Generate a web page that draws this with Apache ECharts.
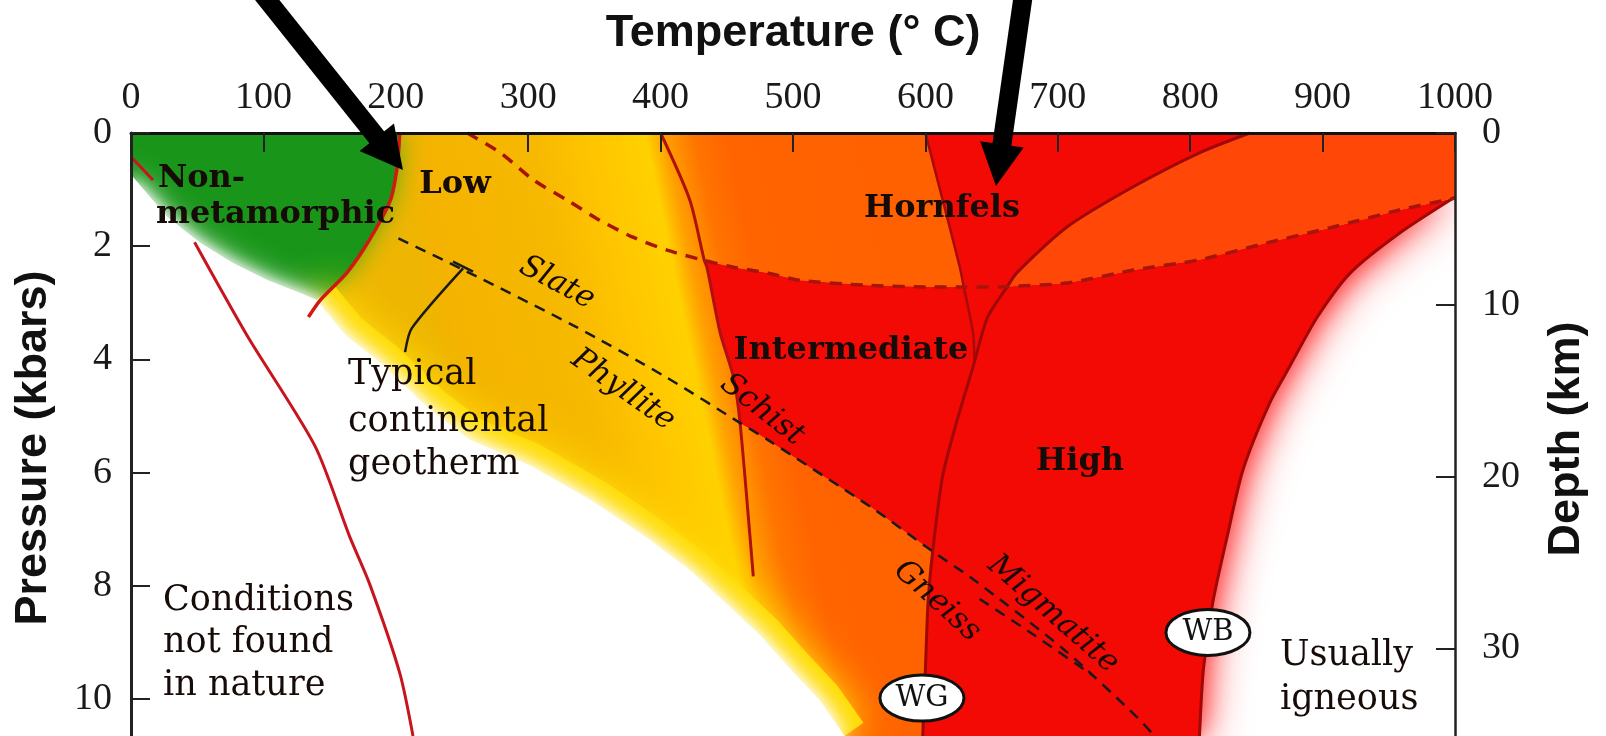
<!DOCTYPE html>
<html>
<head>
<meta charset="utf-8">
<title>Metamorphic grade</title>
<script src="https://cdn.jsdelivr.net/npm/echarts@6/dist/echarts.min.js"></script>
<style>
html,body{margin:0;padding:0;background:#fff;}
#chart{width:1606px;height:736px;}
</style>
</head>
<body>
<div id="chart"></div>
<script>
// axis ranges
var tempMin = 0, tempMax = 1000, tempStep = 100;
var presMax = 10.65, presStep = 2;
var depthMax = 35.1, depthStep = 10;

// boundaries, each point is [temperature C, pressure kbar]
var lowGradeLine = [[203,0],[201,0.6],[196,1.18],[180,1.89],[163,2.47],[143,2.95],[134,3.25]];
var nonMetEdge = [[0,0.65],[1.5,0.78],[27,1.48],[52,1.94],[77,2.3],[103,2.6],[128,2.83],[140,2.95]];
var natureEdge = [[140,2.95],[162,3.57],[188,4.05],[226,4.89],[256,5.42],[301,5.87],[347,6.48],[388,7.12],[422,7.72],[449,8.3],[475,8.87],[498,9.47],[520,10.02],[539,10.65]];
var conditionsTop = [[0,0.42],[16.6,0.83]];
var conditionsLine = [[48,1.93],[88,3.59],[139,5.53],[165,7.12],[180,7.95],[203,9.54],[213,10.65]];
var schistLine = [[400,0],[422,1.18],[433,2.25],[435,2.37],[445,3.53],[455,4.31],[460,5.12],[467.5,7.12],[470,7.83]];
var hornfelsLine = [[254,0],[279,0.35],[304,0.83],[329,1.18],[354,1.54],[379,1.84],[405,2.07],[433,2.25],[455,2.37],[480,2.47],[505,2.6],[556,2.69],[606,2.72],[629,2.72],[656,2.72],[662,2.71],[707,2.65],[757,2.42],[807,2.24],[858,1.94],[908,1.66],[958,1.36],[1000,1.15]];
var hornfelsHighLine = [[600,0],[613,1.18],[626,2.37],[629,2.72],[636,3.53],[637,4.0]];
var wetGraniteLine = [[845,0],[807,0.35],[757,0.95],[707,1.66],[669,2.47],[662,2.71],[647,3.25],[636,4.13],[624,5.07],[613,6.06],[605.5,7.39],[602,8.3],[600,9.47],[598,10.65]];
var wetBasaltLine = [[1000,1.13],[958,1.77],[921,2.47],[896,3.25],[875,4.13],[860,4.77],[840,5.94],[828,7.12],[817,8.3],[810,9.47],[807,10.65]];
var geothermLine = [[202,1.86],[253,2.44],[335,3.41],[404,4.31],[460,5.12],[481,5.42],[559,6.61],[605.5,7.39],[636,7.88],[705,9.13],[760,10.32],[773,10.65]];
var geothermLine2 = [[641,8.23],[681,8.85],[727,9.59]];
var geothermLeader = [[207,3.87],[212,3.45],[250.8,2.39]];
var geothermBracket = [[243.2,2.27],[258.3,2.45]];

// annotations
var labelTexts = ['Non-','metamorphic','Low','Hornfels','Slate','Phyllite','Schist','Intermediate','High','Gneiss','Migmatite',
	'Typical','continental','geotherm','Conditions','not found','in nature','Usually','igneous'];
var labelAt = [[20.4,0.80],[18.9,1.45],[244.7,0.92],[612.5,1.34],[321.8,2.65],[371.6,4.54],[476.6,4.89],[543.8,3.85],[716.8,5.8],[608.8,8.27],[696.4,8.5],
	[163.9,4.28],[163.9,5.11],[163.9,5.87],[24.2,8.27],[24.2,9.01],[24.2,9.77],[867.8,9.24],[867.8,10.02]];
var labelKind = ['region','region','region','region','rock','rock','rock','region','region','rock','rock',
	'note','note','note','note','note','note','note','note'];
var labelAngle = [0,0,0,0,28,35,38,0,0,42,41,0,0,0,0,0,0,0,0];
var badgeTexts = ['WG','WB'];
var badgeAt = [[597.4,9.98],[813.4,8.82]];
var arrowTail = [[96.7,-2.53],[674.5,-2.53]];
var arrowTip = [[205.4,0.654],[653.3,0.936]];

// fill colours of the low grade band, by temperature along the top edge
var bandTemps = [195,212,300,350,388,402,425,450,600];
var bandColors = ['#eeb502','#f3b300','#f7b800','#ffc600','#ffd100','#ffa000','#ff7400','#ff6400','#ff6000'];

var fonts = {
	region:{size:32, weight:'bold', style:'normal'},
	rock:{size:31, weight:'normal', style:'italic'},
	note:{size:35, weight:'normal', style:'normal'}
};

// rings for the filled zones
var highRing = [].concat(hornfelsLine.slice(7), wetBasaltLine, wetGraniteLine.slice(10).reverse(),
	geothermLine.slice(4,7).reverse(), schistLine.slice(2,6).reverse());
var lowRing = [].concat([[190,0],[1000,0]], hornfelsLine.slice(7).reverse(), schistLine.slice(3,7),
	geothermLine.slice(5,8), wetGraniteLine.slice(11), natureEdge.slice().reverse());
var contactRing = [].concat(hornfelsHighLine.slice(0,4), hornfelsLine.slice(14,16), wetGraniteLine.slice(0,5).reverse());
var contactHotRing = [].concat(wetGraniteLine.slice(0,6), hornfelsLine.slice(16), [[1000,0]]);
var greenRing = [].concat([[0,0]], lowGradeLine.slice(0,6), nonMetEdge.slice().reverse());
var natureRing = [].concat(nonMetEdge, natureEdge.slice(1), [[0,presMax]]);

function bandFill(api){
	var a = api.coord(schistLine[0]);
	var b = api.coord(schistLine[schistLine.length-1]);
	var dx = b[0]-a[0], dy = b[1]-a[1];
	var l = Math.sqrt(dx*dx+dy*dy);
	var nx = dy/l, ny = -dx/l;
	var s = api.coord([bandTemps[0],0]);
	var e = api.coord([bandTemps[bandTemps.length-1],0]);
	var len = (e[0]-s[0])*nx;
	var t0 = bandTemps[0], t1 = bandTemps[bandTemps.length-1];
	return {
		type:'linear', global:true,
		x:s[0], y:s[1], x2:s[0]+nx*len, y2:s[1]+ny*len,
		colorStops:bandTemps.map(function(t,i){ return {offset:(t-t0)/(t1-t0), color:bandColors[i]}; })
	};
}

function curve(data, color, width, dash){
	return {
		type:'line', data:data, symbol:'none', silent:true, z:8, smooth:0.25,
		lineStyle:{color:color, width:width, type:dash || 'solid'}
	};
}

var chart = echarts.init(document.getElementById('chart'));

// all the filled zones in one group, so they paint in this order
var zones = {
	type:'custom', coordinateSystem:'cartesian2d', silent:true, clip:true, z:2,
	data:[[500,5]],
	renderItem:function(params, api){
		function pts(ring){ return ring.map(function(p){ return api.coord(p); }); }
		function poly(ring, style){ return {type:'polygon', shape:{points:pts(ring)}, style:style}; }
		return {type:'group', children:[
			poly(highRing, {fill:'#f30a05', shadowBlur:46, shadowColor:'rgba(255,30,30,1)'}),
			poly(highRing, {fill:'#f30a05', shadowBlur:24, shadowColor:'rgba(255,60,60,0.9)'}),
			poly(lowRing, {fill:bandFill(api)}),
			poly(contactRing, {fill:'#f30a05'}),
			poly(contactHotRing, {fill:'#ff4808'}),
			poly(greenRing, {fill:'#19961a', shadowBlur:26, shadowColor:'rgba(70,170,20,0.95)'}),
			{type:'polyline', shape:{points:pts(natureEdge)},
				style:{stroke:'#ffdc00', lineWidth:46, fill:null, lineJoin:'round', shadowBlur:40, shadowColor:'#ffdc00'}},
			poly(natureRing, {fill:'#ffffff', shadowBlur:28, shadowColor:'#ffffff'}),
			poly(natureRing, {fill:'#ffffff', shadowBlur:14, shadowColor:'#ffffff'})
		]};
	}
};

var series = [
	zones,
	curve(conditionsTop, '#c8141e', 3),
	curve(conditionsLine, '#c8141e', 3),
	curve(lowGradeLine, '#d01a10', 3.5),
	curve(schistLine, '#b01010', 3),
	curve(hornfelsHighLine, '#a80a0a', 2.5),
	curve(wetGraniteLine, '#a00808', 3),
	curve(wetBasaltLine, '#a00808', 3),
	curve(hornfelsLine, '#a8140c', 3.5, [12,9]),
	curve(geothermLine, '#1a1a1a', 2.5, [11,8]),
	curve(geothermLine2, '#1a1a1a', 2.5, [11,8]),
	curve(geothermLeader, '#1a1a1a', 2.5),
	curve(geothermBracket, '#1a1a1a', 2.5),

	{
		type:'custom', coordinateSystem:'cartesian2d', silent:true, z:9,
		data:labelAt,
		renderItem:function(params, api){
			var i = params.dataIndex;
			var f = fonts[labelKind[i]];
			var p = api.coord([api.value(0), api.value(1)]);
			var left = labelKind[i]=='note' || i<2;
			return {type:'text', x:p[0], y:p[1], rotation:-labelAngle[i]*Math.PI/180,
				style:{text:labelTexts[i], fill:'#170b08', fontFamily:'DejaVu Serif', fontSize:f.size,
					fontWeight:f.weight, fontStyle:f.style, align:left ? 'left' : 'center', verticalAlign:'middle'}};
		}
	},
	{
		type:'custom', coordinateSystem:'cartesian2d', silent:true, z:9,
		data:badgeAt,
		renderItem:function(params, api){
			var p = api.coord([api.value(0), api.value(1)]);
			return {type:'group', children:[
				{type:'ellipse', shape:{cx:p[0], cy:p[1], rx:42, ry:23}, style:{fill:'#ffffff', stroke:'#111', lineWidth:3}},
				{type:'text', x:p[0], y:p[1], style:{text:badgeTexts[params.dataIndex], fill:'#111', fontFamily:'DejaVu Serif',
					fontSize:29, align:'center', verticalAlign:'middle'}}
			]};
		}
	},
	{
		type:'custom', coordinateSystem:'cartesian2d', silent:true, clip:false, z:20,
		data:arrowTail.map(function(t,i){ return [t[0], t[1], arrowTip[i][0], arrowTip[i][1]]; }),
		renderItem:function(params, api){
			var p0 = api.coord([api.value(0), api.value(1)]);
			var p1 = api.coord([api.value(2), api.value(3)]);
			var dx = p1[0]-p0[0], dy = p1[1]-p0[1];
			var l = Math.sqrt(dx*dx+dy*dy), ux = dx/l, uy = dy/l;
			var head = 42, half = 22;
			var base = [p1[0]-ux*head, p1[1]-uy*head];
			return {type:'group', children:[
				{type:'line', shape:{x1:p0[0], y1:p0[1], x2:base[0]+ux*4, y2:base[1]+uy*4}, style:{stroke:'#000', lineWidth:19}},
				{type:'polygon', shape:{points:[p1, [base[0]-uy*half, base[1]+ux*half], [base[0]+uy*half, base[1]-ux*half]]}, style:{fill:'#000'}}
			]};
		}
	}
];

var tickFont = {fontFamily:'Liberation Serif', fontSize:38, color:'#1a1a1a'};

chart.setOption({
	animation:false,
	grid:{left:131, right:151, top:133, bottom:0},
	xAxis:{
		type:'value', position:'top', min:tempMin, max:tempMax, interval:tempStep, z:12,
		axisLine:{lineStyle:{color:'#111', width:3}},
		axisTick:{inside:true, length:19, lineStyle:{color:'#222', width:2}},
		axisLabel:Object.assign({margin:16, formatter:function(v){ return String(v); }}, tickFont),
		splitLine:{show:false}
	},
	yAxis:[
		{
			type:'value', inverse:true, min:0, max:presMax, interval:presStep, z:12,
			axisLine:{show:true, lineStyle:{color:'#222', width:3}},
			axisTick:{show:true, inside:true, length:19, lineStyle:{color:'#222', width:2}},
			axisLabel:Object.assign({margin:19, showMaxLabel:false}, tickFont),
			splitLine:{show:false}
		},
		{
			type:'value', inverse:true, position:'right', min:0, max:depthMax, interval:depthStep, z:12,
			axisLine:{show:true, lineStyle:{color:'#222', width:2.5}},
			axisTick:{show:true, inside:true, length:19, lineStyle:{color:'#222', width:2}},
			axisLabel:Object.assign({margin:27, showMaxLabel:false}, tickFont),
			splitLine:{show:false}
		}
	],
	graphic:[
		{type:'text', x:793, y:34, style:{text:'Temperature (° C)', font:'bold 45px "Liberation Sans"', fill:'#111', align:'center', verticalAlign:'middle'}},
		{type:'text', x:34, y:448, rotation:Math.PI/2, style:{text:'Pressure (kbars)', font:'bold 45px "Liberation Sans"', fill:'#111', align:'center', verticalAlign:'middle'}},
		{type:'text', x:1567, y:439, rotation:Math.PI/2, style:{text:'Depth (km)', font:'bold 45px "Liberation Sans"', fill:'#111', align:'center', verticalAlign:'middle'}}
	],
	series:series
});
</script>
</body>
</html>
